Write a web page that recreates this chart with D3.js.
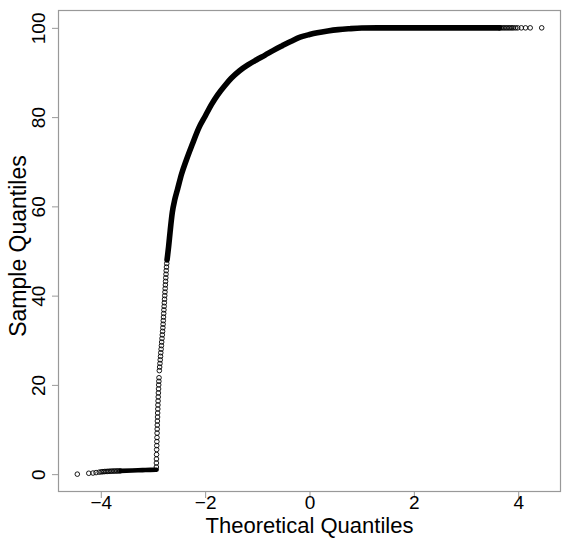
<!DOCTYPE html>
<html>
<head>
<meta charset="utf-8">
<script src="https://cdn.jsdelivr.net/npm/d3@7"></script>
<style>
  body { margin: 0; background: #fff; }
  svg { display: block; font-family: "Liberation Sans", Arial, Helvetica, sans-serif; }
</style>
</head>
<body>
<div id="chart"></div>
<script>
// Normal Q-Q plot

// single circles: left tail and right tail
const tailX = [-4.45, -4.23, -4.15, -4.09, -4.03, -3.99, -3.96, -3.93, -3.90, -3.87, -3.84, -3.81, -3.78, -3.75, -3.72, -3.69, -3.66, -3.63,
               3.64, 3.67, 3.70, 3.73, 3.76, 3.79, 3.82, 3.85, 3.88, 3.91, 3.95, 3.99, 4.06, 4.14, 4.23, 4.45];
const tailY = [0.0, 0.2, 0.25, 0.35, 0.45, 0.52, 0.55, 0.58, 0.6, 0.62, 0.64, 0.66, 0.68, 0.69, 0.7, 0.71, 0.72, 0.73,
               100, 100, 100, 100, 100, 100, 100, 100, 100, 100, 100, 100, 100, 100, 100, 100];

// the jump near -2.9 : a chain of separate circles
const steepX = [-2.935, -2.934, -2.933, -2.931, -2.929, -2.927, -2.925, -2.923, -2.921, -2.919, -2.917, -2.915, -2.912, -2.910, -2.907,
                -2.905, -2.902, -2.899, -2.896, -2.893, -2.890, -2.887, -2.884, -2.878, -2.872, -2.866, -2.861, -2.855, -2.850, -2.844,
                -2.838, -2.833, -2.827, -2.821, -2.815, -2.810, -2.806, -2.802, -2.798, -2.794, -2.790, -2.786, -2.782, -2.778, -2.774,
                -2.770, -2.766, -2.762, -2.758, -2.754, -2.750, -2.746, -2.741, -2.736];
const steepY = [1.6, 2.5, 3.4, 4.4, 5.5, 6.4, 7.3, 8.2, 9.2, 10.1, 11.0, 11.9, 12.8, 13.7, 14.6,
                15.5, 16.4, 17.3, 18.2, 19.1, 20.0, 20.8, 21.6, 23.2, 24.0, 24.8, 25.6, 26.4, 27.2, 28.0,
                28.8, 29.6, 30.4, 31.2, 32.0, 32.8, 33.6, 34.4, 35.2, 36.0, 36.8, 37.6, 38.4, 39.2, 40.0,
                40.8, 41.6, 42.4, 43.2, 44.0, 44.8, 45.6, 46.4, 47.2];

// dense runs where the circles merge into a solid band
const lowBarX = [-3.62, -3.4, -3.2, -3.05, -2.93];
const lowBarY = [0.74, 0.83, 0.9, 0.95, 1.0];

const curveX = [-2.73, -2.70, -2.67, -2.63, -2.58, -2.53, -2.45, -2.36, -2.25, -2.12, -2.00, -1.88, -1.76, -1.62, -1.50, -1.34,
                -1.18, -1.02, -0.85, -0.70, -0.52, -0.35, -0.18, 0.00, 0.15, 0.35, 0.55, 0.77, 1.00, 1.30, 2.00, 3.00, 3.64];
const curveY = [48.0, 51.0, 54.5, 58.6, 61.6, 63.8, 67.3, 70.4, 73.8, 77.6, 80.2, 82.8, 85.0, 87.1, 88.7, 90.4,
                91.7, 92.8, 93.9, 94.9, 96.0, 97.0, 97.9, 98.5, 98.9, 99.3, 99.6, 99.8, 99.95, 100, 100, 100, 100];

const xTicks = [-4, -2, 0, 2, 4];
const yTicks = [0, 20, 40, 60, 80, 100];

const W = 563, H = 539;
const mLeft = 58, mRight = 561, mTop = 10, mBottom = 492;

const svg = d3.select("#chart").append("svg").attr("width", W).attr("height", H);

const x = d3.scaleLinear().domain([-4.82, 4.82]).range([mLeft, mRight]);
const y = d3.scaleLinear().domain([-4, 104]).range([mBottom, mTop]);

// solid bands
const line = d3.line().x(d => x(d[0])).y(d => y(d[1])).curve(d3.curveMonotoneX);
svg.append("path")
  .datum(d3.zip(lowBarX, lowBarY))
  .attr("d", line)
  .attr("fill", "none").attr("stroke", "#000").attr("stroke-width", 4.6).attr("stroke-linecap", "round");
svg.append("path")
  .datum(d3.zip(curveX, curveY))
  .attr("d", line)
  .attr("fill", "none").attr("stroke", "#000").attr("stroke-width", 5.6).attr("stroke-linecap", "round");

// single circles
const pts = d3.zip(tailX, tailY).concat(d3.zip(steepX, steepY));
svg.append("g").selectAll("circle")
  .data(pts)
  .join("circle")
  .attr("cx", d => x(d[0]))
  .attr("cy", d => y(d[1]))
  .attr("r", 2.3)
  .attr("fill", "none")
  .attr("stroke", "#000")
  .attr("stroke-width", 0.9);

// frame
svg.append("rect")
  .attr("x", mLeft + 0.5).attr("y", mTop + 0.5)
  .attr("width", mRight - mLeft - 1).attr("height", mBottom - mTop - 1)
  .attr("fill", "none").attr("stroke", "#999").attr("stroke-width", 1.2);

// axes
const gx = svg.append("g").attr("transform", `translate(0,${mBottom})`)
  .call(d3.axisBottom(x).tickValues(xTicks).tickSize(6).tickFormat(d3.format("d")));
gx.select(".domain").remove();
gx.selectAll("line").attr("stroke", "#999");
gx.selectAll("text").attr("y", 17).attr("dy", null)
  .attr("font-size", 19).attr("fill", "#000").style("font-family", "'Liberation Sans', Arial, sans-serif");

const gy = svg.append("g").attr("transform", `translate(${mLeft},0)`)
  .call(d3.axisLeft(y).tickValues(yTicks).tickSize(6).tickFormat(d3.format("d")));
gy.select(".domain").remove();
gy.selectAll("line").attr("stroke", "#999");
gy.selectAll("text").attr("x", null).attr("dy", null)
  .attr("transform", "translate(-13,0) rotate(-90)")
  .attr("text-anchor", "middle")
  .attr("font-size", 19).attr("fill", "#000").style("font-family", "'Liberation Sans', Arial, sans-serif");

// axis titles
svg.append("text")
  .attr("x", (mLeft + mRight) / 2).attr("y", 533)
  .attr("text-anchor", "middle").attr("font-size", 22)
  .text("Theoretical Quantiles");
svg.append("text")
  .attr("transform", `translate(26,246) rotate(-90)`)
  .attr("text-anchor", "middle").attr("font-size", 23)
  .text("Sample Quantiles");
</script>
</body>
</html>
